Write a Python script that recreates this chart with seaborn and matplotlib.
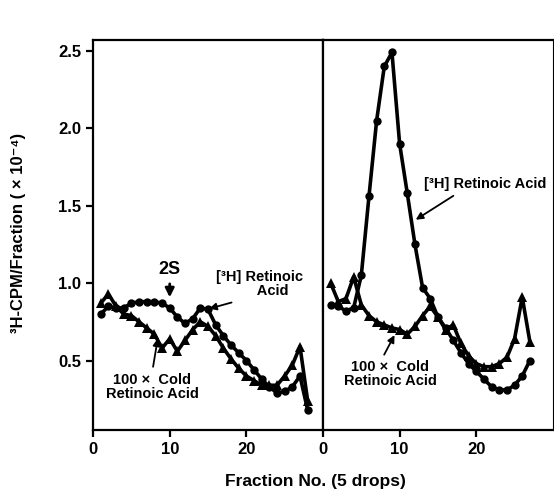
import matplotlib
matplotlib.use('Agg')
import pandas as pd
import matplotlib.pyplot as plt
import seaborn as sns

# fracciones (5 gotas)
frac_left = list(range(1, 29))
hot_left = [0.80, 0.85, 0.84, 0.84, 0.87, 0.88, 0.88, 0.88, 0.87, 0.84,
            0.78, 0.74, 0.77, 0.84, 0.83, 0.73, 0.66, 0.60, 0.55, 0.50,
            0.44, 0.38, 0.33, 0.29, 0.30, 0.33, 0.40, 0.18]
cold_left = [0.87, 0.93, 0.85, 0.80, 0.79, 0.75, 0.71, 0.67, 0.58, 0.64,
             0.56, 0.63, 0.70, 0.75, 0.72, 0.66, 0.58, 0.51, 0.45, 0.40,
             0.37, 0.34, 0.34, 0.34, 0.40, 0.47, 0.59, 0.24]

frac_right = list(range(1, 28))
hot_right = [0.86, 0.85, 0.82, 0.84, 1.05, 1.56, 2.05, 2.40, 2.49, 1.90,
             1.58, 1.25, 0.97, 0.90, 0.78, 0.71, 0.63, 0.55, 0.48, 0.43,
             0.38, 0.33, 0.31, 0.31, 0.34, 0.40, 0.50]
cold_right = [1.00, 0.88, 0.90, 1.04, 0.86, 0.79, 0.75, 0.73, 0.71, 0.70,
              0.67, 0.72, 0.79, 0.85, 0.78, 0.70, 0.73, 0.61, 0.53, 0.48,
              0.46, 0.46, 0.48, 0.52, 0.64, 0.91, 0.62]

sns.set_style('ticks')
plt.rcParams['font.family'] = ['Liberation Sans', 'DejaVu Sans']
plt.rcParams['font.weight'] = 'bold'
plt.rcParams['text.color'] = 'black'
plt.rcParams['xtick.color'] = 'black'
plt.rcParams['ytick.color'] = 'black'

fig, (ax1, ax2) = plt.subplots(1, 2, figsize=(5.54, 4.95), dpi=100, sharey=True)
fig.subplots_adjust(left=0.168, right=0.998, top=0.919, bottom=0.131, wspace=0)

df_l = pd.DataFrame({'frac': frac_left, 'hot': hot_left, 'cold': cold_left})
df_r = pd.DataFrame({'frac': frac_right, 'hot': hot_right, 'cold': cold_right})

for ax, df in [(ax1, df_l), (ax2, df_r)]:
    sns.lineplot(x='frac', y='hot', data=df, ax=ax, color='black', lw=2.6,
                 marker='o', markersize=6, markeredgewidth=0)
    sns.lineplot(x='frac', y='cold', data=df, ax=ax, color='black', lw=2.6,
                 marker='^', markersize=7, markeredgewidth=0)
    ax.set_xlim(0, 30)
    ax.set_ylim(0.05, 2.57)
    ax.set_xticks([0, 10, 20])
    ax.set_xlabel('')
    ax.set_ylabel('')
    for s in ax.spines.values():
        s.set_visible(True)
        s.set_linewidth(1.6)
        s.set_color('black')
    ax.tick_params(axis='both', labelsize=12, width=1.6, length=5, colors='black')

ax1.set_yticks([0.5, 1.0, 1.5, 2.0, 2.5])
ax1.set_yticklabels(['0.5', '1.0', '1.5', '2.0', '2.5'])
ax2.tick_params(axis='y', left=False)
ax2.spines['right'].set_linewidth(0.8)

fig.text(0.57, 0.018, 'Fraction No. (5 drops)', ha='center', fontsize=12.5, fontweight='bold')
fig.text(0.033, 0.53, '³H-CPM/Fraction ( × 10⁻⁴)', rotation=90, va='center',
         ha='center', fontsize=12, fontweight='bold')

# anotaciones panel izquierdo
ax1.annotate('2S', xy=(10, 0.89), xytext=(10, 1.06), ha='center', fontsize=13,
             fontweight='bold', arrowprops=dict(arrowstyle='-|>', color='black', lw=2))
ax1.annotate('[³H] Retinoic\n          Acid', xy=(14.8, 0.83), xytext=(16.0, 0.92),
             fontsize=10.5, fontweight='bold', linespacing=1.0,
             arrowprops=dict(arrowstyle='-|>', color='black', lw=1.3,
                             relpos=(0.35, 0.0)))
ax1.annotate('100 ×  Cold\nRetinoic Acid', xy=(8.5, 0.66), xytext=(7.7, 0.33),
             fontsize=10.5, fontweight='bold', ha='center', va='center',
             multialignment='center', linespacing=1.0,
             arrowprops=dict(arrowstyle='-|>', color='black', lw=1.3,
                             relpos=(0.5, 1.0)))

# anotaciones panel derecho
ax2.annotate('[³H] Retinoic Acid', xy=(11.8, 1.40), xytext=(13.2, 1.64),
             fontsize=10.5, fontweight='bold', va='center',
             arrowprops=dict(arrowstyle='-|>', color='black', lw=1.3,
                             relpos=(0.3, 0.0)))
ax2.annotate('100 ×  Cold\nRetinoic Acid', xy=(9.5, 0.68), xytext=(8.8, 0.41),
             fontsize=10.5, fontweight='bold', ha='center', va='center',
             multialignment='center', linespacing=1.0,
             arrowprops=dict(arrowstyle='-|>', color='black', lw=1.3,
                             relpos=(0.4, 1.0)))

plt.savefig('out.png', dpi=100)
